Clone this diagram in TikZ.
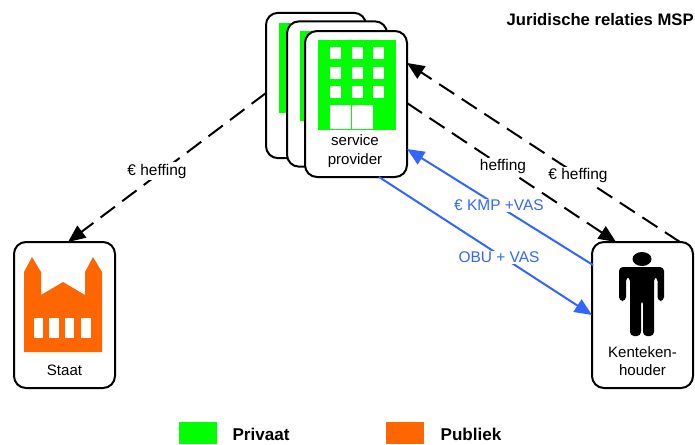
\documentclass[tikz,border=0pt]{standalone}
\usepackage{fontspec}
\setmainfont{Liberation Sans}
\usetikzlibrary{arrows.meta}
\definecolor{pgreen}{HTML}{00FF00}
\definecolor{porange}{HTML}{FF6600}
\definecolor{pblue}{HTML}{3366FF}
\tikzset{
  card/.style={draw=black,line width=1.5pt,rounded corners=9pt,fill=white,inner sep=0pt},
  dashline/.style={draw=black,line width=1.5pt,dash pattern=on 13.5pt off 6.75pt},
  blueline/.style={draw=pblue,line width=1.5pt},
  tipped/.style={-{Triangle[length=13pt,width=11pt]}},
  lab/.style={fill=white,inner sep=1pt,font=\fontsize{11.6pt}{13pt}\selectfont},
  bluelab/.style={lab,text=pblue},
  captxt/.style={align=center,font=\fontsize{11.3pt}{13.8pt}\selectfont,inner sep=0pt},
  legendtxt/.style={font=\bfseries\fontsize{12.8pt}{14pt}\selectfont,inner sep=0pt}
}
\begin{document}
\begin{tikzpicture}[x=0.75pt,y=-0.75pt]
\useasboundingbox (0,0) rectangle (695,444);
% back cards
\node[card,minimum width=75pt,minimum height=109pt] (c1) at (316,85.5) {};
\fill[pgreen] (279,23) rectangle (340,113);
\node[card,minimum width=75pt,minimum height=109pt] (c2) at (337,94) {};
\fill[pgreen] (300,31) rectangle (360,121);
% front card
\node[card,minimum width=76.5pt,minimum height=109.5pt] (sp) at (356,104) {};
\fill[pgreen] (318,40) rectangle (396,130);
\foreach \xx in {330,352,373}\foreach \yy in {47,67,86}
  \fill[white] (\xx,\yy) rectangle +(11,12);
\fill[white] (330,105) rectangle (350.6,129);
\fill[white] (351.6,105) rectangle (373,129);
\node[captxt] (splab) at (355,151) {service\\provider};
% Staat
\node[card,minimum width=75.75pt,minimum height=109.5pt] (st) at (64.5,315) {};
\fill[porange] (24,352) -- (24,272) -- (32,257) -- (41,272) -- (41,295) -- (63,282) -- (85,295) -- (85,272) -- (93,257) -- (102,272) -- (102,352) -- cycle;
\foreach \xx/\xw in {34/9,49/10,65/9,81/10}
  \fill[white] (\xx,318) rectangle +(\xw,20);
\node[captxt] (stlab) at (64.5,370) {Staat};
% Kentekenhouder
\node[card,minimum width=75.75pt,minimum height=109.5pt] (kh) at (642.5,315) {};
\fill[black] (642,259) ellipse [x radius=9.5,y radius=7];
\fill[black,rounded corners=3pt] (619,301) -- (619,267) -- (664,267) -- (664,301) -- (657.5,301) -- (657.5,277) -- (654,277) -- (654,336) -- (643,336) -- (643,300) -- (641,300) -- (641,336) -- (630,336) -- (630,277) -- (626,277) -- (626,301) -- cycle;
\node[captxt] (khlab) at (642.5,361) {Kenteken-\\houder};
% connector ends
\coordinate (a1) at (266,93);
\coordinate (a2) at (68,242);
\coordinate (b1) at (407,103);
\coordinate (b2) at (616,242);
\coordinate (d1) at (680,242);
\coordinate (d2) at (407,63);
\coordinate (e1) at (593,265);
\coordinate (e2) at (407,149);
\coordinate (f1) at (379,177);
\coordinate (f2) at (592,315);
% connectors
\draw[dashline,tipped] (a1) -- (a2);
\draw[dashline,tipped] (b1) -- (b2);
\draw[dashline,tipped] (d1) -- (d2);
\draw[blueline,tipped] (e1) -- (e2);
\draw[blueline,tipped] (f1) -- (f2);
% labels
\node[lab] (l1) at (157,171) {€ heffing};
\node[lab] (l2) at (503,166.5) {heffing};
\node[lab] (l3) at (578,175.5) {€ heffing};
\node[bluelab] (l4) at (499,205.5) {€ KMP +VAS};
\node[bluelab] (l5) at (499,257.5) {OBU + VAS};
\node[font=\bfseries\fontsize{12.5pt}{14pt}\selectfont,anchor=east,inner sep=0pt] (title) at (694,20) {Juridische relaties MSP};
% legend
\node[fill=pgreen,minimum width=28.5pt,minimum height=16.5pt,inner sep=0pt] (lg) at (198,433) {};
\node[legendtxt] (lgt) at (261,434) {Privaat};
\node[fill=porange,minimum width=28.5pt,minimum height=16.5pt,inner sep=0pt] (lo) at (405,433) {};
\node[legendtxt] (lot) at (471,434) {Publiek};
\end{tikzpicture}
\end{document}
